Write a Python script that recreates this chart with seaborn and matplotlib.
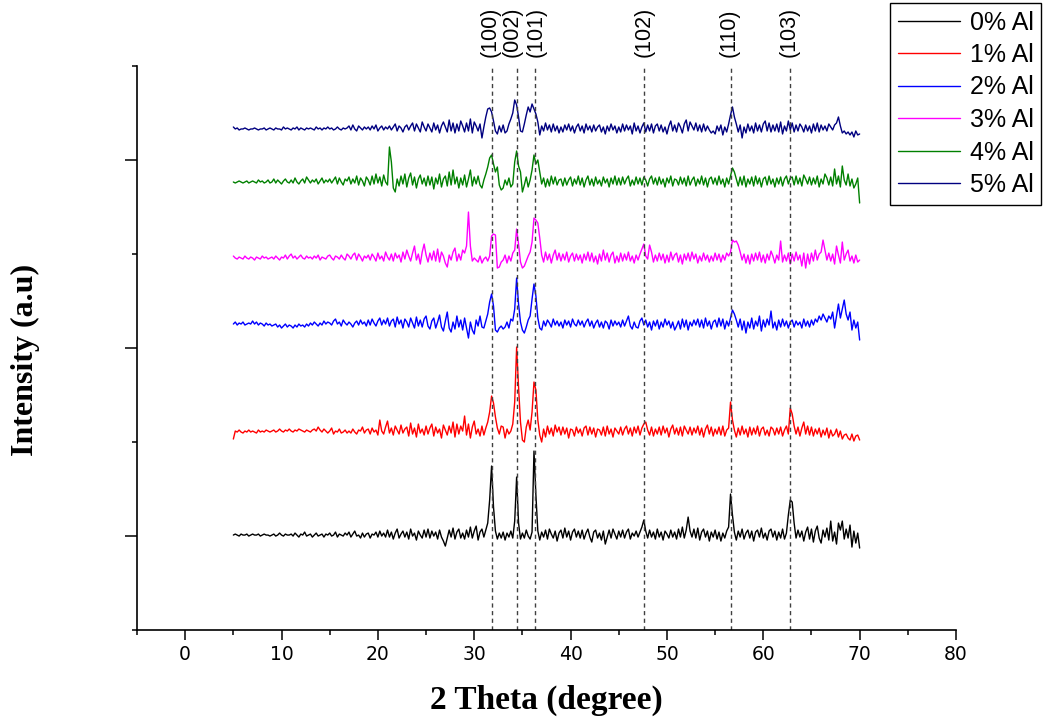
import numpy as np
import pandas as pd
import matplotlib
matplotlib.use('Agg')
import matplotlib.pyplot as plt
import seaborn as sns

# --- dati (offset in px sopra la linea di base, passo 0.2 deg) ---
theta = np.round(np.arange(5.0, 70.0001, 0.2), 1)

samples = ['0% Al', '1% Al', '2% Al', '3% Al', '4% Al', '5% Al']
colors = ['black', 'red', 'blue', 'magenta', 'green', 'navy']
baselines = [1.01, 2.106, 3.255, 3.957, 4.766, 5.33]   # spostamento verticale
px_per_unit = 94.0

al0 = [0,1,0,-1,1,0,0,1,-1,0, 1,0,0,1,-1,0,1,0,0,-1, 0,1,-1,0,2,0,-1,1,0,0,
       1,-1,2,0,-2,1,0,3,-1,0, 1,-2,0,2,-1,0,1,-2,1,0, 2,-1,0,3,-2,1,0,-1,2,0,
       3,-2,1,4,-1,0,-3,2,-2,1, 2,-3,1,0,3,-2,4,-1,2,-2, 5,-2,3,-4,2,6,-3,1,4,-2,
       3,-4,6,-1,2,-5,4,0,-3,5, -2,6,-3,4,-1,3,-4,5,-2,-6, -11,-3,5,-2,7,-4,3,6,-3,2,
       -4,5,-2,8,-3,4,9,-5,3,6, -2,5,12,35,69,28,4,-4,2,-3, 3,-5,2,-2,4,-3,14,58,12,-4,
       2,-3,5,-1,-4,3,84,40,4,-5, 3,-2,5,-4,6,1,-3,4,-6,2, 5,-3,7,-2,4,-5,3,6,-2,4,
       -3,5,-4,2,6,-2,-7,3,5,-3, 2,-5,4,-9,-2,5,-3,6,1,-4, 4,-2,5,-3,3,6,-4,2,-1,4,
       -2,3,8,15,4,-3,5,-2,3,-4, 6,-2,3,-5,4,1,-3,5,-2,3, -4,6,-2,8,-3,5,18,4,-2,6,
       -3,7,-5,3,6,-2,4,-6,3,-2, 5,-4,3,-6,2,-3,4,8,41,20, 3,-5,4,-2,6,-4,2,5,-3,4,
       -6,3,5,-2,7,-3,2,-5,4,6, -2,4,-5,3,-3,6,-4,2,20,35, 33,12,-3,5,-2,4,-6,3,8,-4,
       6,-7,4,9,-3,-8,5,-2,7,-5, 14,-6,3,-9,12,5,14,-4,6,-3, 10,-12,4,-8,2,-13]

al1 = [-7,1,0,2,0,-1,1,0,2,0, 1,0,-1,2,0,1,0,2,1,0, 1,2,0,1,3,1,0,2,1,3,
       1,0,2,1,3,2,1,0,2,1, 0,2,3,1,5,2,0,3,1,-1, 1,4,-2,1,0,3,-1,0,2,-1,
       1,-1,3,0,-2,2,1,5,-1,2, 3,-2,4,0,2,-3,12,1,-2,5, 11,-1,4,-3,6,2,-2,7,-1,3,
       5,-4,9,-2,4,-5,8,-1,3,-3, 6,-2,4,8,-4,5,-1,3,-6,7, 2,-3,6,-1,10,-5,8,-2,6,1,
       16,-3,8,-6,5,11,-2,3,-4,6, -3,4,10,20,36,29,15,4,-2,6, 5,-6,3,-2,1,8,30,85,45,10,
       -8,-10,5,12,2,20,50,42,12,-3, -10,3,-5,6,-2,4,-4,7,0,5, -3,5,-2,4,-6,3,2,-4,5,-1,
       3,-4,4,6,-3,5,-2,4,-5,3, 2,-3,5,-4,6,-2,3,-5,4,1, -2,5,-3,3,6,-2,4,-4,5,-1,
       6,-3,4,8,10,2,-3,5,-4,3, -2,5,-3,6,-1,4,-5,3,7,-2, 4,-3,5,-4,6,2,-2,5,-3,4,
       -1,6,-3,4,-5,3,7,-2,5,-4, 3,-2,5,-3,6,-4,2,4,30,12, 2,-5,4,-3,6,-2,3,-5,5,-3,
       4,-2,6,-4,3,5,-3,2,-4,5, 3,-3,4,-2,5,-4,2,6,-2,24, 18,6,-2,5,-4,4,10,-2,6,-3,
       5,-4,3,-2,4,-5,2,-3,4,-6, 2,-4,-2,3,-5,1,-7,-3,-2,-6, -8,-2,-9,-4,-3,-8]

al2 = [0,2,-1,1,0,2,-1,0,1,0, 3,0,2,-1,1,0,-2,1,-1,0, -2,-1,0,-3,-1,-4,-2,0,-3,-1,
       -2,-4,-1,-3,0,-2,-1,-3,0,-2, 1,-1,2,0,-2,1,-1,3,0,2, 1,-1,3,5,0,2,-2,4,1,-1,
       2,0,-3,1,3,-1,4,0,2,-2, 4,-1,5,1,-2,3,6,-1,4,0, 6,-2,3,5,-3,7,0,4,-4,5,
       2,-3,6,1,-4,7,-2,4,-3,5, 8,-2,-5,3,6,-4,2,9,-3,-7, 3,12,-4,-8,2,-5,8,-3,4,-6,
       6,-4,-14,2,-6,-10,4,-2,8,-3, -4,3,10,22,30,18,-6,-8,-4,-2, -5,-3,2,-4,5,3,15,46,20,2,
       -6,-9,-3,4,8,25,40,28,6,-4, -6,3,-2,4,1,-3,5,-1,3,-2, 2,-4,4,-1,3,-3,5,0,-2,4,
       -1,3,-3,2,5,-2,3,-4,1,4, -3,2,-4,3,1,-5,4,-2,3,-1, 2,-3,4,-2,3,8,-2,-5,2,-3,
       -4,3,6,-1,4,-3,2,-6,3,-2, 4,-5,2,-3,5,-1,3,-4,2,-6, -2,3,-5,5,-3,4,-6,2,-2,4,
       -1,5,-3,4,-4,6,-2,3,-5,2, 4,-3,6,-2,5,-5,3,-2,6,14, 10,4,-3,5,-6,3,-9,2,-4,6,
       -5,3,-2,8,-7,4,-3,5,-1,13, -4,2,-6,4,-3,5,-2,3,-4,2, 4,-3,3,-1,2,-4,5,-2,3,-3,
       4,-1,5,2,8,4,10,6,2,8, 5,12,-4,8,20,6,15,24,10,4, 12,-6,4,-4,2,-16]

al3 = [2,0,-1,1,0,-1,2,0,-1,1, 0,-2,1,0,-1,2,0,1,-1,0, 1,-1,2,0,-2,1,0,3,-1,2,
       4,0,2,-1,1,3,0,-1,2,0, 1,-1,2,0,3,-2,1,0,-1,2, 3,0,-2,2,1,-1,3,0,-2,4,
       2,-1,3,5,-2,4,1,-3,2,0, 3,-2,4,1,-3,5,-1,2,-3,6, 1,-2,4,-3,5,0,3,-4,6,-1,
       8,2,-3,5,12,-2,4,-6,6,14, 3,-4,5,-2,7,-3,9,-4,6,2, -5,-9,3,-2,6,10,-3,4,-2,8,
       5,12,46,12,-3,0,-2,-4,2,-5, -1,1,-3,2,22,24,23,-10,-9,-4, -2,3,-5,2,-3,5,8,29,14,-4,
       -10,-8,-3,2,6,16,40,38,35,20, 3,-4,6,-2,4,-5,3,8,-2,5, -3,4,-2,6,-4,2,5,-3,4,-2,
       3,-5,4,-2,6,-3,5,-4,2,-6, 4,-3,8,-2,5,-4,3,6,-5,2, -4,5,-3,4,-2,6,-3,2,-5,3,
       -2,4,9,14,2,-1,13,6,-4,3, -3,5,-2,4,-5,3,-4,6,-2,3, 5,-4,3,-6,4,-2,5,-3,6,-1,
       4,-5,2,-3,5,-2,3,-4,2,-3, 5,-2,4,-4,3,-2,5,2,6,18, 16,17,13,6,-2,4,-5,3,-6,4,
       -3,5,-2,6,-4,3,-5,4,-2,7, 2,-5,3,-2,17,-4,3,-3,5,-6, 4,-3,6,-2,3,-8,5,-10,4,-6,
       5,-3,8,-2,4,6,18,8,-2,5, -3,4,-6,12,3,-5,16,-2,4,8, -3,2,-5,3,-4,-2]

al4 = [0,-1,0,1,0,-1,0,1,-1,0, 1,0,-1,2,0,1,-1,0,2,-1, 0,3,-1,2,0,-2,1,3,0,-1,
       2,-1,4,0,-2,1,3,-1,5,2, -1,2,0,3,-2,1,4,-1,2,0, 3,-1,2,5,-2,4,0,-3,3,1,
       5,-2,3,-1,6,-3,4,1,-4,5, 2,-3,6,-2,8,-1,5,-4,7,0, -3,35,20,-6,-10,3,-4,6,-2,8,
       -5,4,9,-3,5,-6,3,7,-2,4, -4,6,-3,5,-7,4,-2,8,-5,3, 6,-4,10,-3,12,-2,5,-6,4,-3,
       7,-5,3,12,-4,5,-2,6,-3,-6, 2,8,15,24,27,18,10,15,-3,-8, -6,2,-3,4,-5,-2,20,31,16,10,
       -10,-3,5,-5,2,12,27,18,22,10, -2,4,-5,3,-4,6,-2,5,-3,2, 3,-4,4,-3,2,5,-4,3,-2,6,
       -3,4,-5,2,6,-3,3,-4,5,-2, 2,-4,5,-1,3,-5,4,-2,6,-3, 4,-3,5,-2,3,6,-4,2,-3,5,
       -2,4,-3,5,2,-4,3,6,-2,4, -3,5,-2,3,-5,4,-1,6,-4,3, 2,-3,5,-2,4,-4,6,-3,2,5,
       -4,3,-2,6,-3,4,-5,3,5,-2, 4,-3,6,-2,3,-5,4,-2,6,14, 10,3,-4,5,-3,6,-5,3,-2,5,
       -4,6,-2,4,-5,3,5,-3,6,-2, 3,-5,4,-2,5,-4,3,6,-2,4, 5,-3,6,-2,4,-4,7,3,-2,5,
       -3,4,-2,6,-5,3,-2,8,4,-3, 5,-4,13,-2,6,-5,16,2,-3,8, -4,3,-6,-2,4,-21]

al5 = [2,0,1,-1,0,0,1,0,-1,0, 0,1,0,-1,0,0,1,-1,0,1, 0,-1,1,0,0,-1,2,0,1,0,
       -1,1,0,2,-1,1,0,-1,1,0, 1,0,-1,2,0,1,-1,1,0,2, 0,1,-1,0,2,0,-1,1,0,1,
       3,-1,4,0,-2,3,1,-1,2,0, 2,-1,3,0,4,-2,1,3,-1,2, 0,3,-1,2,5,-2,3,1,-3,2,
       4,-1,3,6,-2,5,1,-3,7,2, -2,5,1,-3,6,-1,4,-4,3,7, 2,-3,9,-2,6,-4,5,-2,8,3,
       -3,6,-2,10,-4,7,3,-2,5,-9, 2,12,20,21,17,8,-2,-5,3,-3, 4,-4,-2,5,10,16,29,24,12,-2,
       -3,5,14,22,17,25,20,15,7,-6, 3,-2,6,-1,4,-3,5,-2,3,-4, 2,-3,4,-1,5,-2,3,-4,2,5,
       -2,3,-4,5,-1,3,-3,4,-2,2, 4,-3,2,-5,3,-2,5,-1,3,-4, 2,-3,5,-2,4,-1,3,-5,6,-2,
       3,-4,2,6,-3,4,-2,5,-4,3, 5,-2,4,-3,2,-5,3,8,-2,4, -3,6,2,-4,5,9,-2,7,3,-1,
       6,-2,4,-3,5,-2,3,-1,-4,-2, -5,3,-2,4,-6,2,-3,5,14,22, 12,5,-3,4,-9,2,-4,5,-2,3,
       -4,6,-2,4,-3,5,8,-2,6,-3, 4,-2,5,-3,7,-5,3,-2,8,-1, 6,-3,4,-2,5,2,-3,4,-2,3,
       -4,5,-2,6,-3,4,-1,3,-2,5, 2,-1,4,6,12,3,-4,-2,-5,-3, -6,-3,-8,-2,-6,-5]

# picchi di riferimento (ZnO)
peak_pos = [31.8, 34.4, 36.3, 47.6, 56.6, 62.8]
peak_hkl = ['(100)', '(002)', '(101)', '(102)', '(110)', '(103)']
label_shift = [-0.2, -0.5, 0.1, 0, -0.1, -0.1]   # piccolo spostamento delle etichette (gradi)

# --- dataframe lungo ---
frames = []
for name, base, vals in zip(samples, baselines, [al0, al1, al2, al3, al4, al5]):
    frames.append(pd.DataFrame({'theta': theta,
                                'intensity': base + np.array(vals) / px_per_unit,
                                'sample': name}))
df = pd.concat(frames, ignore_index=True)

sns.set_style('ticks')
plt.rcParams['font.family'] = ['DejaVu Sans']
plt.rcParams.update({'text.color': 'black', 'axes.edgecolor': 'black',
                     'xtick.color': 'black', 'ytick.color': 'black',
                     'axes.labelcolor': 'black'})

fig = plt.figure(figsize=(10.54, 7.19), dpi=100)
ax = fig.add_axes([137/1054, 1-630/719, (956-137)/1054, (630-66)/719])

sns.lineplot(data=df, x='theta', y='intensity', hue='sample', hue_order=samples,
             palette=colors, estimator=None, sort=False, linewidth=1, ax=ax)

# linee tratteggiate dei picchi
ax.vlines(peak_pos, 0, 6, colors='0.25', linestyles=(0, (3, 2.5)), linewidth=1)
for p, sh, lab in zip(peak_pos, label_shift, peak_hkl):
    ax.text(p + sh, 6.1, lab, rotation=90, ha='center', va='bottom', fontsize=15.5,
            family='Liberation Sans', clip_on=False)

ax.set_xlim(-5, 80)
ax.set_ylim(0, 6)
ax.set_xticks(range(0, 81, 10))
ax.set_xticks(range(-5, 80, 10), minor=True)
ax.set_yticks([1, 3, 5])
ax.set_yticks([0, 2, 4, 6], minor=True)
ax.set_yticklabels([])
ax.tick_params(axis='both', which='major', length=7, width=1.1, labelsize=13.5)
ax.tick_params(axis='both', which='minor', length=3.5, width=1.1)
ax.tick_params(axis='y', which='major', length=8.5)
sns.despine(ax=ax)
for s in ['left', 'bottom']:
    ax.spines[s].set_linewidth(1.2)

ax.set_xlabel('')
ax.set_ylabel('')
fig.text(546/1054, 1-700/719, '2 Theta (degree)', ha='center', va='center',
         fontsize=24, fontweight='bold', family='Liberation Serif')
fig.text(25/1054, 1-360/719, 'Intensity (a.u)', ha='center', va='center', rotation=90,
         fontsize=23, fontweight='bold', family='Liberation Serif')

sns.move_legend(ax, loc='upper left', bbox_to_anchor=(890/1054, 1-3/719),
                bbox_transform=fig.transFigure, title=None, frameon=True,
                fancybox=False, edgecolor='black', framealpha=1,
                prop={'family': 'Liberation Sans', 'size': 18},
                handlelength=2.5, handletextpad=0.4, labelspacing=0.34,
                borderpad=0.3, borderaxespad=0)
ax.get_legend().get_frame().set_linewidth(1.0)

fig.savefig('out.png', dpi=100)
